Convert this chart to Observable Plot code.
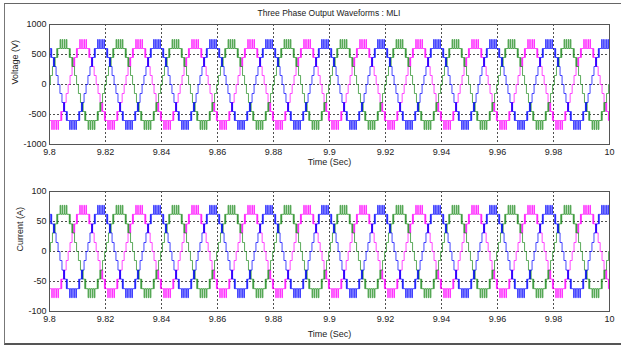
<!DOCTYPE html>
<html>
<head>
<meta charset="utf-8">
<script src="https://cdn.jsdelivr.net/npm/d3@7"></script>
<script src="https://cdn.jsdelivr.net/npm/@observablehq/plot@0.6"></script>
<style>
  body { margin: 0; background: #fff; }
  #fig { position: relative; width: 621px; height: 347px; overflow: hidden; background: #fff;
         font-family: "Liberation Sans", Arial, sans-serif; }
  #frame { position: absolute; left: 4px; top: 3px; width: 630px; height: 339px;
           border-left: 1px solid #777; border-top: 1px solid #666; border-bottom: 2px solid #555; }
  #title { position: absolute; left: 0; width: 658px; top: 8px; text-align: center;
           font-size: 8.5px; color: #222; }
  .panel { position: absolute; left: 0; }
</style>
</head>
<body>
<div id="fig">
  <div id="frame"></div>
  <div id="title">Three Phase Output Waveforms : MLI</div>
  <div id="top" class="panel" style="top:0px"></div>
  <div id="bottom" class="panel" style="top:167px"></div>
</div>
<script>
// ---- data ----
const periodSec = 0.02;                 // 50 Hz fundamental
const xDomain = [9.8, 10];
const xTicks = [9.8, 9.82, 9.84, 9.86, 9.88, 9.9, 9.92, 9.94, 9.96, 9.98, 10];
const xTickLabels = ["9.8", "9.82", "9.84", "9.86", "9.88", "9.9", "9.92", "9.94", "9.96", "9.98", "10"];
const voltTicks = [-1000, -500, 0, 500, 1000];
const voltTickLabels = ["-1000", "-500", "0", "500", "1000"];
const currTicks = [-100, -50, 0, 50, 100];
const currTickLabels = ["-100", "-50", "0", "50", "100"];
const voltGrid = [-500, 0, 500];
const currGrid = [-50, 0, 50];

// phases in drawing order
const phaseNames = ["C", "B", "A"];
const phaseColors = ["#ff00ff", "#1e8c1e", "#0000ff"];
const phasePeakTime = [9.8120, 9.8050, 9.7984];   // time of a positive peak of each phase

// one positive half-cycle of the staircase (angle in degrees, level)
const halfCycleDeg = [0, 6, 19, 30, 33, 36, 47, 50, 53, 68, 72, 81, 85, 95, 99, 108, 112, 127, 130, 133, 144, 147, 150, 161, 174];
const voltLevels   = [0, 150, 300, 450, 300, 450, 600, 450, 600, 750, 600, 750, 600, 750, 600, 750, 600, 450, 600, 450, 300, 450, 300, 150, 0];
const currLevels   = [0, 15, 31, 46, 31, 46, 62, 46, 62, 77, 62, 77, 62, 77, 62, 77, 62, 46, 62, 46, 31, 46, 31, 15, 0];

// ---- build the periodic waveform by repeating the read cycle ----
function buildWave(levels) {
  const rows = [];
  phaseNames.forEach((name, p) => {
    const start = phasePeakTime[p] - periodSec / 4;
    for (let k = -2; k <= 12; k++) {
      for (let h = 0; h < 2; h++) {
        const sgn = h === 0 ? 1 : -1;
        halfCycleDeg.forEach((deg, j) => {
          rows.push({ phase: name, t: start + k * periodSec + h * periodSec / 2 + deg / 360 * periodSec, v: sgn * levels[j] });
        });
      }
    }
  });
  return rows;
}
const voltData = buildWave(voltLevels);
const currData = buildWave(currLevels);

function fmt(ticks, labels) {
  return d => { const i = ticks.findIndex(x => Math.abs(x - d) < 1e-9); return i >= 0 ? labels[i] : ""; };
}

function panel(data, yDomain, yTicks, yTickLabels, yGrid, yLabel, yLabelDx, xLabelDy, marginBottom) {
  const marks = [
    Plot.ruleX(xTicks.slice(1, -1), { stroke: "#222", strokeWidth: 0.8, strokeDasharray: "2,2" }),
    Plot.ruleY(yGrid, { stroke: "#222", strokeWidth: 0.8, strokeDasharray: "2,2" })
  ];
  phaseNames.forEach((name, p) => {
    marks.push(Plot.line(data.filter(d => d.phase === name), {
      x: "t", y: "v", curve: "step-after", stroke: phaseColors[p], strokeWidth: 0.9, strokeOpacity: 0.8, clip: true
    }));
  });
  marks.push(
    Plot.frame({ stroke: "#555" }),
    Plot.axisX({ ticks: xTicks, tickFormat: fmt(xTicks, xTickLabels), tickSize: 0, tickPadding: 4, fontSize: 9, color: "#222", label: null }),
    Plot.axisY({ ticks: yTicks, tickFormat: fmt(yTicks, yTickLabels), tickSize: 0, tickPadding: 3, fontSize: 9, color: "#222", label: null }),
    Plot.text([yLabel], { frameAnchor: "left", text: d => d, rotate: -90, dx: yLabelDx, fontSize: 9, fill: "#222" }),
    Plot.text(["Time (Sec)"], { frameAnchor: "bottom", lineAnchor: "middle", text: d => d, dy: xLabelDy, fontSize: 9, fill: "#222" })
  );
  return Plot.plot({
    width: 621, height: 144 + marginBottom,
    marginLeft: 49, marginRight: 12, marginTop: 24, marginBottom: marginBottom,
    x: { domain: xDomain },
    y: { domain: yDomain },
    style: { fontFamily: "Liberation Sans, Arial, sans-serif", fontSize: "9px", background: "transparent", overflow: "visible" },
    marks
  });
}

document.getElementById("top").append(
  panel(voltData, [-1000, 1000], voltTicks, voltTickLabels, voltGrid, "Voltage (V)", -34, 18, 30));
document.getElementById("bottom").append(
  panel(currData, [-100, 100], currTicks, currTickLabels, currGrid, "Current (A)", -29, 23, 31));
</script>
</body>
</html>
